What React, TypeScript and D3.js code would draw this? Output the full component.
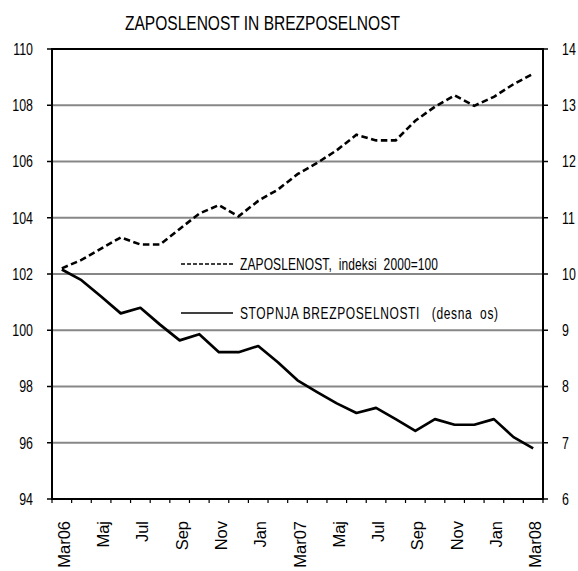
import React from 'react'
import * as d3 from 'd3'

// mesecne kategorije mar 2006 - mar 2008
const months = [
  'Mar06', 'Apr', 'Maj', 'Jun', 'Jul', 'Avg', 'Sep', 'Okt', 'Nov', 'Dec', 'Jan', 'Feb',
  'Mar07', 'Apr', 'Maj', 'Jun', 'Jul', 'Avg', 'Sep', 'Okt', 'Nov', 'Dec', 'Jan', 'Feb', 'Mar08',
]
const shownLabels = ['Mar06', 'Maj', 'Jul', 'Sep', 'Nov', 'Jan', 'Mar07', 'Maj', 'Jul', 'Sep', 'Nov', 'Jan', 'Mar08']

// zaposlenost, indeksi 2000=100 (leva os)
const zaposlenost = [
  102.2, 102.5, 102.9, 103.3, 103.05, 103.05, 103.6, 104.15, 104.45, 104.05, 104.6, 105.0,
  105.55, 105.95, 106.4, 106.95, 106.75, 106.75, 107.45, 107.95, 108.35, 107.98, 108.3, 108.75, 109.12,
]
// stopnja brezposelnosti (desna os)
const brezposelnost = [
  10.08, 9.89, 9.6, 9.3, 9.4, 9.1, 8.82, 8.93, 8.61, 8.61, 8.72, 8.43,
  8.11, 7.9, 7.7, 7.53, 7.62, 7.42, 7.21, 7.42, 7.32, 7.32, 7.42, 7.1, 6.9,
]

const leftTicks = [94, 96, 98, 100, 102, 104, 106, 108, 110]
const rightTicks = [6, 7, 8, 9, 10, 11, 12, 13, 14]
const gridValues = [96, 98, 100, 102, 104, 106, 108]

const W = 578
const H = 571
const [top, right, bottom, left] = [49, 543, 499, 52]
const SY = 1.32 // tekst je raztegnjen navpicno
const FONT = '"Liberation Sans", Arial, sans-serif'

export default function App() {
  const idx = months.map((_, i) => i)
  const x = d3.scaleBand<number>().domain(idx).range([left, right]).padding(0)
  const cx = (i: number) => (x(i) as number) + x.bandwidth() / 2
  const yL = d3.scaleLinear().domain([94, 110]).range([bottom, top])
  const yR = d3.scaleLinear().domain([6, 14]).range([bottom, top])

  const lineL = d3.line<number>().x((_, i) => cx(i)).y(d => yL(d))
  const lineR = d3.line<number>().x((_, i) => cx(i)).y(d => yR(d))

  const ht = (px: number, py: number) => `translate(${px},${py}) scale(1,${SY})`

  return (
    <svg width={W} height={H} style={{ position: 'absolute', left: 0, top: 0, background: '#fff' }}
      fontFamily={FONT}>
      <rect width={W} height={H} fill="#fff" />

      {/* naslov */}
      <text transform={ht(125, 30)} fontSize={15.5} fill="#000" textLength={275} lengthAdjust="spacingAndGlyphs">
        ZAPOSLENOST IN BREZPOSELNOST
      </text>

      {/* mreza */}
      {gridValues.map(v => (
        <line key={v} x1={left} x2={right} y1={yL(v)} y2={yL(v)} stroke="#878787" strokeWidth={1.8} />
      ))}

      {/* okvir */}
      <rect x={left} y={top} width={right - left} height={bottom - top} fill="none" stroke="#000" strokeWidth={2} />

      {/* leva os */}
      {leftTicks.map(v => (
        <g key={'l' + v}>
          <line x1={left - 5} x2={left} y1={yL(v)} y2={yL(v)} stroke="#000" strokeWidth={1.5} />
          <text transform={ht(33, yL(v) + 5.8)} fontSize={12.4} textAnchor="end" fill="#000">{v}</text>
        </g>
      ))}

      {/* desna os */}
      {rightTicks.map(v => (
        <g key={'r' + v}>
          <line x1={right} x2={right + 5} y1={yR(v)} y2={yR(v)} stroke="#000" strokeWidth={1.5} />
          <text transform={ht(562, yR(v) + 5.8)} fontSize={12.4} textAnchor="start" fill="#000">{v}</text>
        </g>
      ))}

      {/* spodnja os */}
      {d3.range(months.length + 1).map(i => {
        const px = left + i * x.bandwidth()
        return <line key={'b' + i} x1={px} x2={px} y1={bottom} y2={bottom + 4} stroke="#000" strokeWidth={1.2} />
      })}
      {shownLabels.map((lab, k) => {
        const i = k * 2
        return (
          <text key={'x' + k} transform={`translate(${cx(i) + 8},521) rotate(-90)`} fontSize={16.5}
            textAnchor="end" fill="#000">{lab}</text>
        )
      })}

      {/* crte */}
      <path d={lineL(zaposlenost) || ''} fill="none" stroke="#000" strokeWidth={2.6} strokeDasharray="6.5,3.5" />
      <path d={lineR(brezposelnost) || ''} fill="none" stroke="#000" strokeWidth={2.7} strokeLinejoin="round" />

      {/* legenda */}
      <line x1={181} x2={233} y1={264} y2={264} stroke="#000" strokeWidth={1.5} strokeDasharray="4,2" />
      <text transform={ht(240, 269.7)} fontSize={12} fill="#000" xmlSpace="preserve"
        textLength={198} lengthAdjust="spacing">
        {'ZAPOSLENOST,  indeksi  2000=100'}
      </text>
      <line x1={181} x2={233} y1={313} y2={313} stroke="#000" strokeWidth={1.6} />
      <text transform={ht(240, 318.7)} fontSize={12} fill="#000" xmlSpace="preserve"
        textLength={258} lengthAdjust="spacing">
        {'STOPNJA BREZPOSELNOSTI   (desna  os)'}
      </text>
    </svg>
  )
}
